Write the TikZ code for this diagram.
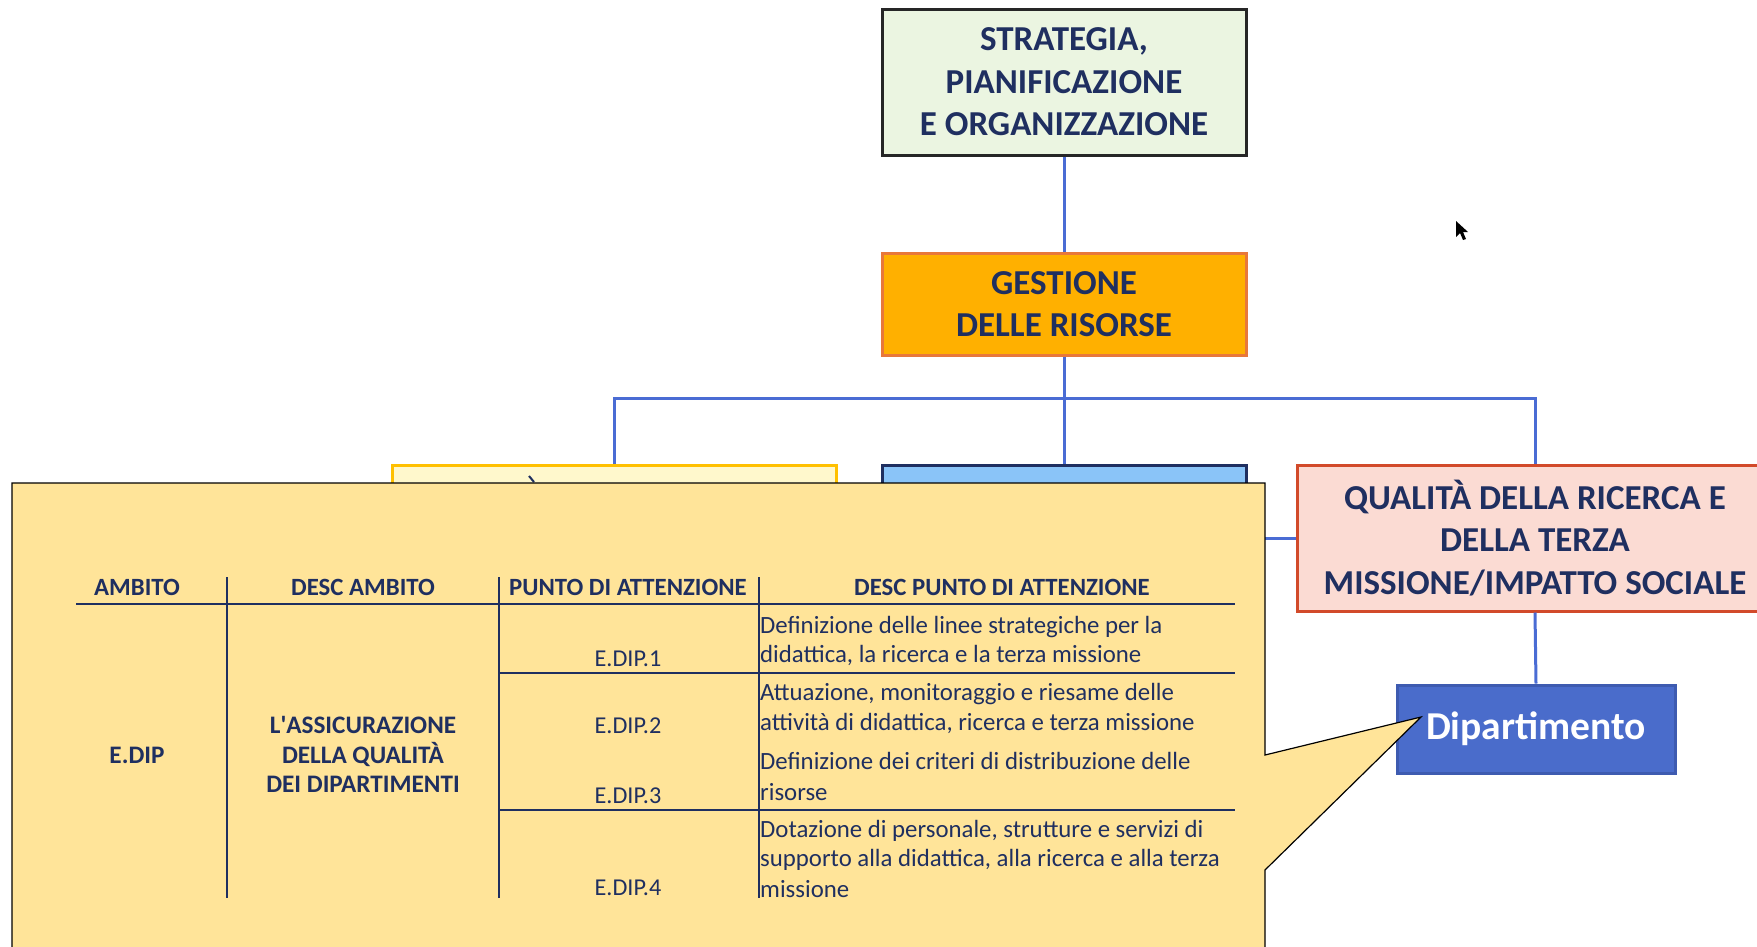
\documentclass[tikz,border=0pt]{standalone}
\usepackage{fontspec}
\setmainfont{Carlito}
\definecolor{navy}{HTML}{1F2F60}
\definecolor{conn}{HTML}{4A6CD4}
\definecolor{greenfill}{HTML}{EBF5E1}
\definecolor{orangefill}{HTML}{FFB000}
\definecolor{orangeline}{HTML}{E8783A}
\definecolor{yelfill}{HTML}{FFF8CC}
\definecolor{yelline}{HTML}{FFC000}
\definecolor{bluefill}{HTML}{8AC4F8}
\definecolor{pinkfill}{HTML}{FBDBD3}
\definecolor{pinkline}{HTML}{D24A2A}
\definecolor{depfill}{HTML}{4A6CCB}
\definecolor{depline}{HTML}{3E5BB0}
\definecolor{callfill}{HTML}{FFE499}
\tikzset{
  box/.style={draw, line width=3pt, align=center, inner sep=0pt, text=navy,
    font=\bfseries\fontsize{35}{42.5}\selectfont},
  link/.style={draw=conn, line width=3pt},
  tline/.style={draw=navy, line width=1.4pt},
  thead/.style={anchor=base, text=navy, inner sep=0pt, font=\bfseries\fontsize{24.8}{29}\selectfont},
  tbold/.style={anchor=base, text=navy, inner sep=0pt, font=\bfseries\fontsize{25.2}{29}\selectfont},
  tcode/.style={anchor=base, text=navy, inner sep=0pt, font=\fontsize{24.2}{29}\selectfont},
  tdesc/.style={anchor=base west, text=navy, inner sep=0pt, font=\fontsize{24.8}{30}\selectfont}
}
\begin{document}
\begin{tikzpicture}[x=1pt,y=-1pt]
\useasboundingbox (0,0) rectangle (1757,946);
\clip (0,0) rectangle (1757,946);
\fill[white] (0,0) rectangle (1757,946);
% boxes
\node[box, fill=greenfill, draw=black!85, minimum width=364pt, minimum height=146pt] (strat) at (1064,82) {STRATEGIA,\\PIANIFICAZIONE\\E ORGANIZZAZIONE};
\node[box, fill=orangefill, draw=orangeline, minimum width=364pt, minimum height=102pt] (gest) at (1064,304) {GESTIONE\\DELLE RISORSE};
\node[box, fill=yelfill, draw=yelline, minimum width=444pt, minimum height=146pt] (left) at (614,538) {};
\node[box, fill=bluefill, draw=navy, minimum width=364pt, minimum height=146pt] (mid) at (1064,538) {};
\node[box, fill=pinkfill, draw=pinkline, minimum width=476pt, minimum height=146pt] (right) at (1535,538) {QUALITÀ DELLA RICERCA E\\DELLA TERZA\\MISSIONE/IMPATTO SOCIALE};
\node[box, fill=depfill, draw=depline, text=white, minimum width=278pt, minimum height=88pt, font=\bfseries\fontsize{39.5}{44}\selectfont] (dip) at (1536,729) {Dipartimento};
% connectors
\coordinate (bus) at (1064,398);
\draw[link] (strat.south) -- (gest.north);
\draw[link] (gest.south) -- (mid.north);
\draw[link] (left.north) |- (bus) -| (right.north);
\draw[link] (mid.east) -- (right.west);
\draw[link] (right.south) -- (dip.north);
% accent peeking out of hidden box
\draw[navy, line width=2pt] (529,476) -- (534,482);
% mouse cursor
\fill[black] (1456,221) -- (1456,237) -- (1460,233) -- (1463,240) -- (1466,239) -- (1463,232) -- (1468,232) -- cycle;
% callout
\draw[fill=callfill, draw=black, line width=1.2pt] (12,483) -- (1265,483) -- (1265,755) -- (1421,717) -- (1265,870) -- (1265,960) -- (12,960) -- cycle;
% table lines
\draw[tline] (76,604) -- (1235,604);
\draw[tline] (227,577) -- (227,898);
\draw[tline] (499,577) -- (499,898);
\draw[tline] (759,577) -- (759,898);
\draw[tline] (499,673) -- (1235,673);
\draw[tline] (499,810) -- (1235,810);
% header
\node[thead] (h1) at (137,595) {AMBITO};
\node[thead] (h2) at (363,595) {DESC AMBITO};
\node[thead] (h3) at (628,595) {PUNTO DI ATTENZIONE};
\node[thead] (h4) at (1002,595) {DESC PUNTO DI ATTENZIONE};
% body
\node[tbold] (amb) at (137,763) {E.DIP};
\node[tbold] (da1) at (363,733) {L\textquotesingle ASSICURAZIONE};
\node[tbold] (da2) at (363,763) {DELLA QUALITÀ};
\node[tbold] (da3) at (363,792) {DEI DIPARTIMENTI};
\node[tcode] (p1) at (628,666) {E.DIP.1};
\node[tcode] (p2) at (628,733) {E.DIP.2};
\node[tcode] (p3) at (628,803) {E.DIP.3};
\node[tcode] (p4) at (628,895) {E.DIP.4};
\node[tdesc] (d1a) at (760,633) {Definizione delle linee strategiche per la};
\node[tdesc] (d1b) at (760,662) {didattica, la ricerca e la terza missione};
\node[tdesc] (d2a) at (760,700) {Attuazione, monitoraggio e riesame delle};
\node[tdesc] (d2b) at (760,730) {attività di didattica, ricerca e terza missione};
\node[tdesc] (d3a) at (760,769) {Definizione dei criteri di distribuzione delle};
\node[tdesc] (d3b) at (760,800) {risorse};
\node[tdesc] (d4a) at (760,837) {Dotazione di personale, strutture e servizi di};
\node[tdesc] (d4b) at (760,866) {supporto alla didattica, alla ricerca e alla terza};
\node[tdesc] (d4c) at (760,897) {missione};
\end{tikzpicture}
\end{document}
